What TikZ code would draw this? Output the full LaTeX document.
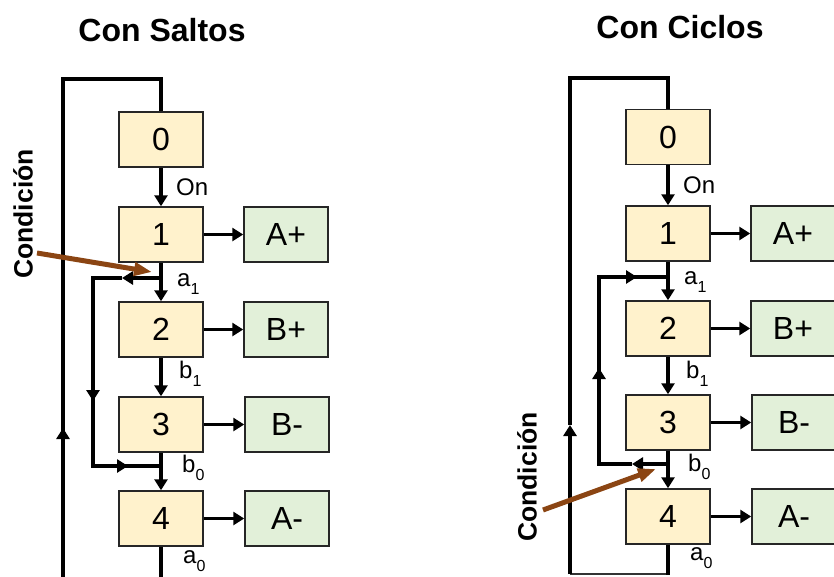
\documentclass[tikz,border=0pt]{standalone}
\usepackage{fontspec}
\setmainfont{Liberation Sans}
\usetikzlibrary{arrows.meta}
\definecolor{stepfill}{HTML}{FFF2CC}
\definecolor{actfill}{HTML}{E2F0D9}
\definecolor{condbrown}{HTML}{8B4513}
\newcommand{\lbl}[2]{#1\raisebox{-0.32em}{\fontsize{16}{16}\selectfont #2}}
\begin{document}
\begin{tikzpicture}[x=1pt,y=-1pt,
  stepbox/.style={draw=black!85,line width=1.5pt,fill=stepfill,minimum width=84pt,minimum height=55pt,inner sep=0pt,font=\fontsize{32}{36}\selectfont},
  actbox/.style={draw=black!85,line width=1.5pt,fill=actfill,minimum width=84pt,minimum height=55pt,inner sep=0pt,font=\fontsize{32}{36}\selectfont},
  wire/.style={line width=3.5pt,black},
  arr/.style={wire,-{Triangle[length=11pt,width=13pt]}},
  lab/.style={anchor=west,inner sep=0pt,font=\fontsize{24}{26}\selectfont},
  ttl/.style={font=\bfseries\fontsize{32}{36}\selectfont},
  cond/.style={font=\bfseries\fontsize{26.5}{28}\selectfont,rotate=90},
  condarrow/.style={line width=5pt,condbrown,-{Triangle[length=18pt,width=13pt]}}]
\useasboundingbox (0,0) rectangle (834,576);
\clip (0,0) rectangle (834,576);
% ---------------- Left: Con Saltos ----------------
\node[ttl] (Ltitle) at (162,30) {Con Saltos};
\node[stepbox] (L0) at (161,139.5) {0};
\node[stepbox] (L1) at (161,234.5) {1};
\node[stepbox] (L2) at (161,329.5) {2};
\node[stepbox] (L3) at (161,424.5) {3};
\node[stepbox] (L4) at (161,518.5) {4};
\node[actbox] (LAp) at (286,234.5) {A+};
\node[actbox] (LBp) at (286,329.5) {B+};
\node[actbox] (LBm) at (287,424.5) {B-};
\node[actbox] (LAm) at (287,518.5) {A-};
\draw[arr] (L0.south) -- (L1.north);
\draw[arr] (L1.south) -- (L2.north);
\draw[arr] (L2.south) -- (L3.north);
\draw[arr] (L3.south) -- (L4.north);
\draw[arr] (L1.east) -- (LAp.west);
\draw[arr] (L2.east) -- (LBp.west);
\draw[arr] (L3.east) -- (LBm.west);
\draw[arr] (L4.east) -- (LAm.west);
\node[lab] (Lon) at (176,187) {On};
\node[lab] (La1) at (177,284) {\lbl{a}{1}};
\node[lab] (Lb1) at (179,374) {\lbl{b}{1}};
\node[lab] (Lb0) at (182,468) {\lbl{b}{0}};
\node[lab] (La0) at (183,561) {\lbl{a}{0}};
% big loop
\coordinate (Lbr) at (161,582);
\coordinate (Lbl) at (63,582);
\coordinate (Lup) at (63,428);
\coordinate (Ltl) at (63,79);
\coordinate (Ltr) at (161,79);
\draw[wire] (L4.south) -- (Lbr) -- (Lbl) -- (Lup);
\draw[arr] (Lbl) -- (Lup);
\draw[wire,line join=miter] (Lup) -- (Ltl) -- (Ltr) -- (L0.north);
% jump loop
\coordinate (Lj1) at (161,278);
\coordinate (Lm1) at (122,278);
\coordinate (Lk1) at (93,278);
\coordinate (Lm2) at (93,401);
\coordinate (Lk2) at (93,466);
\coordinate (Lm3) at (128,466);
\coordinate (Lj2) at (161,466);
\draw[arr] (Lj1) -- (Lm1);
\draw[wire,line join=miter] (Lm1) -- (Lk1) -- (Lm2);
\draw[arr] (Lk1) -- (Lm2);
\draw[wire,line join=miter] (Lm2) -- (Lk2) -- (Lm3);
\draw[arr] (Lk2) -- (Lm3);
\draw[wire] (Lm3) -- (Lj2);
% condition
\node[cond] (Lcond) at (23,214) {Condición};
\coordinate (Lcs) at (37,253);
\coordinate (Lct) at (152,272);
\draw[condarrow] (Lcs) -- (Lct);
% ---------------- Right: Con Ciclos ----------------
\node[ttl] (Rtitle) at (680,27) {Con Ciclos};
\node[stepbox] (R0) at (668,137) {0};
\node[stepbox] (R1) at (668,233.5) {1};
\node[stepbox] (R2) at (668,328.5) {2};
\node[stepbox] (R3) at (668,422.5) {3};
\node[stepbox] (R4) at (668,516.5) {4};
\node[actbox] (RAp) at (793,233.5) {A+};
\node[actbox] (RBp) at (793,328.5) {B+};
\node[actbox] (RBm) at (794,422.5) {B-};
\node[actbox] (RAm) at (794,516.5) {A-};
\draw[arr] (R0.south) -- (R1.north);
\draw[arr] (R1.south) -- (R2.north);
\draw[arr] (R2.south) -- (R3.north);
\draw[arr] (R3.south) -- (R4.north);
\draw[arr] (R1.east) -- (RAp.west);
\draw[arr] (R2.east) -- (RBp.west);
\draw[arr] (R3.east) -- (RBm.west);
\draw[arr] (R4.east) -- (RAm.west);
\node[lab] (Ron) at (683,185) {On};
\node[lab] (Ra1) at (684,282) {\lbl{a}{1}};
\node[lab] (Rb1) at (686,374) {\lbl{b}{1}};
\node[lab] (Rb0) at (688,467) {\lbl{b}{0}};
\node[lab] (Ra0) at (690,558) {\lbl{a}{0}};
% big loop
\coordinate (Rbr) at (668,574);
\coordinate (Rbl) at (570,574);
\coordinate (Rup) at (570,425);
\coordinate (Rtl) at (570,78);
\coordinate (Rtr) at (668,78);
\draw[wire,line width=2pt,black!80] (R4.south) -- (Rbr) -- (Rbl);
\draw[wire] (R4.south) -- ([yshift=-1pt]Rbr);
\draw[arr] (Rbl) -- (Rup);
\draw[wire,line join=miter] (Rup) -- (Rtl) -- (Rtr) -- (R0.north);
% cycle loop
\coordinate (Rj2) at (668,464);
\coordinate (Rm3) at (632,464);
\coordinate (Rk2) at (599,464);
\coordinate (Rm2) at (599,368);
\coordinate (Rk1) at (599,277);
\coordinate (Rm1) at (637,277);
\coordinate (Rj1) at (668,277);
\draw[arr] (Rj2) -- (Rm3);
\draw[wire,line join=miter] (Rm3) -- (Rk2) -- (Rm2);
\draw[arr] (Rk2) -- (Rm2);
\draw[wire,line join=miter] (Rm2) -- (Rk1) -- (Rm1);
\draw[arr] (Rk1) -- (Rm1);
\draw[wire] (Rm1) -- (Rj1);
% condition
\node[cond] (Rcond) at (527,477) {Condición};
\coordinate (Rcs) at (543,510);
\coordinate (Rct) at (656,469);
\draw[condarrow] (Rcs) -- (Rct);
\end{tikzpicture}
\end{document}
